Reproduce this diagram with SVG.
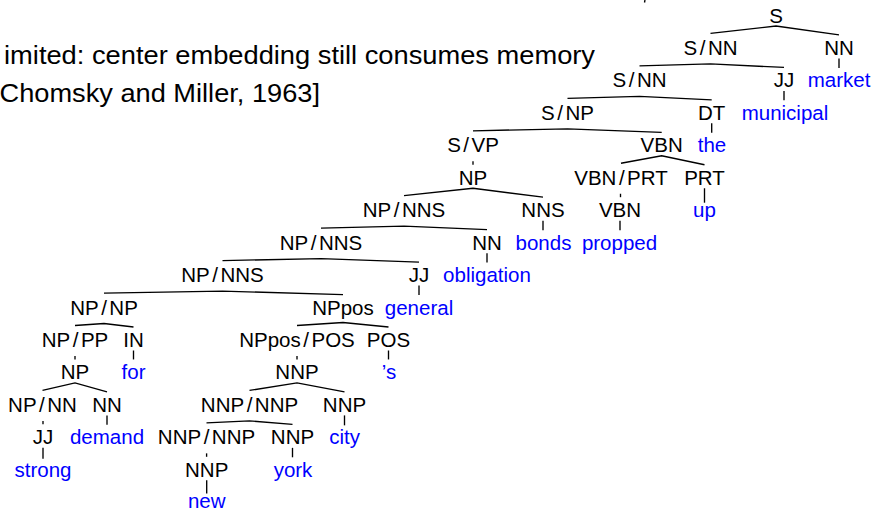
<svg xmlns="http://www.w3.org/2000/svg" width="872" height="510" viewBox="0 0 872 510">
  <style>
    text { font-family: "Liberation Sans", Arial, sans-serif; }
    .hd { font-size: 25px; fill: #000; }
    .n { font-size: 20.5px; fill: #000; text-anchor: middle; }
    .w { font-size: 20.5px; fill: #0000ff; text-anchor: middle; }
    .e line, .e path { stroke: #000; stroke-width: 1.35; fill: none; stroke-linecap: butt; }
  </style>
  <defs>
    <!-- the first heading line runs past the left page margin -->
    <clipPath id="page-left">
      <rect x="4.5" y="0" width="868" height="80"/>
    </clipPath>
  </defs>

  <!-- heading lines at the left -->
  <g id="heading">
    <text class="hd" x="-2" y="64" textLength="597" lengthAdjust="spacingAndGlyphs" clip-path="url(#page-left)">limited: center embedding still consumes memory</text>
    <text class="hd" x="-8" y="102" textLength="328" lengthAdjust="spacingAndGlyphs">[Chomsky and Miller, 1963]</text>
  </g>

  <!-- tree branches -->
  <g id="edges" class="e">
    <path d="M645,0 L644.5,2.5"/>
    <path d="M710.5,33.45 L776,26 L839,34.95"/>
    <path d="M639.5,65.9 L710.5,63.95 L784,67.4"/>
    <line x1="839" y1="58.45" x2="839" y2="67.9"/>
    <path d="M567.5,98.35 L639.5,96.4 L711.7,99.85"/>
    <line x1="784" y1="90.9" x2="784" y2="100.35"/>
    <path d="M473,130.8 L567.5,128.85 L661.7,132.3"/>
    <line x1="711.7" y1="123.35" x2="711.7" y2="132.8"/>
    <line x1="473" y1="161.3" x2="473" y2="164.75"/>
    <path d="M621,163.25 L661.7,155.8 L704.5,164.75"/>
    <path d="M404,195.7 L473,188.25 L543,197.2"/>
    <line x1="620.5" y1="193.75" x2="620.5" y2="197.2"/>
    <line x1="704.5" y1="188.25" x2="704.5" y2="202.7"/>
    <path d="M321,228.15 L404,226.2 L487,229.65"/>
    <line x1="543" y1="220.7" x2="543" y2="230.15"/>
    <line x1="620" y1="220.7" x2="620" y2="230.15"/>
    <path d="M222.5,260.6 L321,258.65 L419,262.1"/>
    <line x1="487" y1="253.15" x2="487" y2="262.6"/>
    <path d="M104,293.05 L222.5,291.1 L343,294.55"/>
    <line x1="419" y1="285.6" x2="419" y2="295.05"/>
    <path d="M75,325.5 L104,323.55 L133.5,327"/>
    <path d="M297,325.5 L343,322.55 L388.5,327"/>
    <line x1="75" y1="356" x2="75" y2="359.45"/>
    <line x1="133.5" y1="350.5" x2="133.5" y2="359.45"/>
    <line x1="297" y1="356" x2="297" y2="359.45"/>
    <line x1="388.5" y1="350.5" x2="388.5" y2="359.45"/>
    <path d="M42.5,390.4 L75,382.95 L107,391.9"/>
    <path d="M249.5,390.4 L297,382.95 L344.5,391.9"/>
    <line x1="43" y1="420.9" x2="43" y2="424.35"/>
    <line x1="107" y1="415.4" x2="107" y2="424.85"/>
    <path d="M206.5,422.85 L249.5,420.9 L292.5,424.35"/>
    <line x1="344.5" y1="415.4" x2="344.5" y2="425.35"/>
    <line x1="43" y1="447.85" x2="43" y2="458.8"/>
    <line x1="206.6" y1="453.35" x2="206.6" y2="456.8"/>
    <line x1="292.5" y1="447.85" x2="292.5" y2="457.3"/>
    <line x1="206.7" y1="480.3" x2="206.7" y2="493.5"/>
  </g>

  <!-- level 0 -->
  <g id="s-root"><text class="n" x="776" y="22.5">S</text></g>
  <!-- level 1 -->
  <g id="s-nn-1"><text class="n" x="710.5" y="54.95">S<tspan dx="2.5">/</tspan><tspan dx="2.5">NN</tspan></text></g>
  <g id="nn-1"><text class="n" x="839" y="54.95">NN</text></g>
  <!-- level 2 -->
  <g id="s-nn-2"><text class="n" x="639.5" y="87.4">S<tspan dx="2.5">/</tspan><tspan dx="2.5">NN</tspan></text></g>
  <g id="jj-2"><text class="n" x="784" y="87.4">JJ</text></g>
  <g id="w-market"><text class="w" x="839" y="87.4">market</text></g>
  <!-- level 3 -->
  <g id="s-np-3"><text class="n" x="567.5" y="119.85">S<tspan dx="2.5">/</tspan><tspan dx="2.5">NP</tspan></text></g>
  <g id="dt-3"><text class="n" x="711.7" y="119.85">DT</text></g>
  <g id="w-municipal"><text class="w" x="785" y="119.85">municipal</text></g>
  <!-- level 4 -->
  <g id="s-vp-4"><text class="n" x="473" y="152.3">S<tspan dx="2.5">/</tspan><tspan dx="2.5">VP</tspan></text></g>
  <g id="vbn-4"><text class="n" x="661.7" y="152.3">VBN</text></g>
  <g id="w-the"><text class="w" x="712" y="152.3">the</text></g>
  <!-- level 5 -->
  <g id="np-5"><text class="n" x="473" y="184.75">NP</text></g>
  <g id="vbn-prt-5"><text class="n" x="621" y="184.75">VBN<tspan dx="2.5">/</tspan><tspan dx="2.5">PRT</tspan></text></g>
  <g id="prt-5"><text class="n" x="704.5" y="184.75">PRT</text></g>
  <!-- level 6 -->
  <g id="np-nns-6"><text class="n" x="404" y="217.2">NP<tspan dx="2.5">/</tspan><tspan dx="2.5">NNS</tspan></text></g>
  <g id="nns-6"><text class="n" x="543" y="217.2">NNS</text></g>
  <g id="vbn-6"><text class="n" x="620" y="217.2">VBN</text></g>
  <g id="w-up"><text class="w" x="704.5" y="217.2">up</text></g>
  <!-- level 7 -->
  <g id="np-nns-7"><text class="n" x="321" y="249.65">NP<tspan dx="2.5">/</tspan><tspan dx="2.5">NNS</tspan></text></g>
  <g id="nn-7"><text class="n" x="487" y="249.65">NN</text></g>
  <g id="w-bonds"><text class="w" x="543.5" y="249.65">bonds</text></g>
  <g id="w-propped"><text class="w" x="619.5" y="249.65">propped</text></g>
  <!-- level 8 -->
  <g id="np-nns-8"><text class="n" x="222.5" y="282.1">NP<tspan dx="2.5">/</tspan><tspan dx="2.5">NNS</tspan></text></g>
  <g id="jj-8"><text class="n" x="419" y="282.1">JJ</text></g>
  <g id="w-obligation"><text class="w" x="487" y="282.1">obligation</text></g>
  <!-- level 9 -->
  <g id="np-np-9"><text class="n" x="104" y="314.55">NP<tspan dx="2.5">/</tspan><tspan dx="2.5">NP</tspan></text></g>
  <g id="nppos-9"><text class="n" x="343" y="314.55">NPpos</text></g>
  <g id="w-general"><text class="w" x="419" y="314.55">general</text></g>
  <!-- level 10 -->
  <g id="np-pp-10"><text class="n" x="75" y="347">NP<tspan dx="2.5">/</tspan><tspan dx="2.5">PP</tspan></text></g>
  <g id="in-10"><text class="n" x="133.5" y="347">IN</text></g>
  <g id="nppos-pos-10"><text class="n" x="297" y="347">NPpos<tspan dx="2.5">/</tspan><tspan dx="2.5">POS</tspan></text></g>
  <g id="pos-10"><text class="n" x="388.5" y="347">POS</text></g>
  <!-- level 11 -->
  <g id="np-11"><text class="n" x="75" y="379.45">NP</text></g>
  <g id="w-for"><text class="w" x="133.5" y="379.45">for</text></g>
  <g id="nnp-11"><text class="n" x="297" y="379.45">NNP</text></g>
  <g id="w-s"><text class="w" x="389" y="379.45">’s</text></g>
  <!-- level 12 -->
  <g id="np-nn-12"><text class="n" x="42.5" y="411.9">NP<tspan dx="2.5">/</tspan><tspan dx="2.5">NN</tspan></text></g>
  <g id="nn-12"><text class="n" x="107" y="411.9">NN</text></g>
  <g id="nnp-nnp-12"><text class="n" x="249.5" y="411.9">NNP<tspan dx="2.5">/</tspan><tspan dx="2.5">NNP</tspan></text></g>
  <g id="nnp-12"><text class="n" x="344.5" y="411.9">NNP</text></g>
  <!-- level 13 -->
  <g id="jj-13"><text class="n" x="43" y="444.35">JJ</text></g>
  <g id="w-demand"><text class="w" x="107" y="444.35">demand</text></g>
  <g id="nnp-nnp-13"><text class="n" x="206.5" y="444.35">NNP<tspan dx="2.5">/</tspan><tspan dx="2.5">NNP</tspan></text></g>
  <g id="nnp-13"><text class="n" x="292.5" y="444.35">NNP</text></g>
  <g id="w-city"><text class="w" x="344.5" y="444.35">city</text></g>
  <!-- level 14 -->
  <g id="w-strong"><text class="w" x="43" y="476.8">strong</text></g>
  <g id="nnp-14"><text class="n" x="206.7" y="476.8">NNP</text></g>
  <g id="w-york"><text class="w" x="293" y="476.8">york</text></g>
  <!-- level 15 -->
  <g id="w-new"><text class="w" x="206.7" y="507.5">new</text></g>
</svg>
